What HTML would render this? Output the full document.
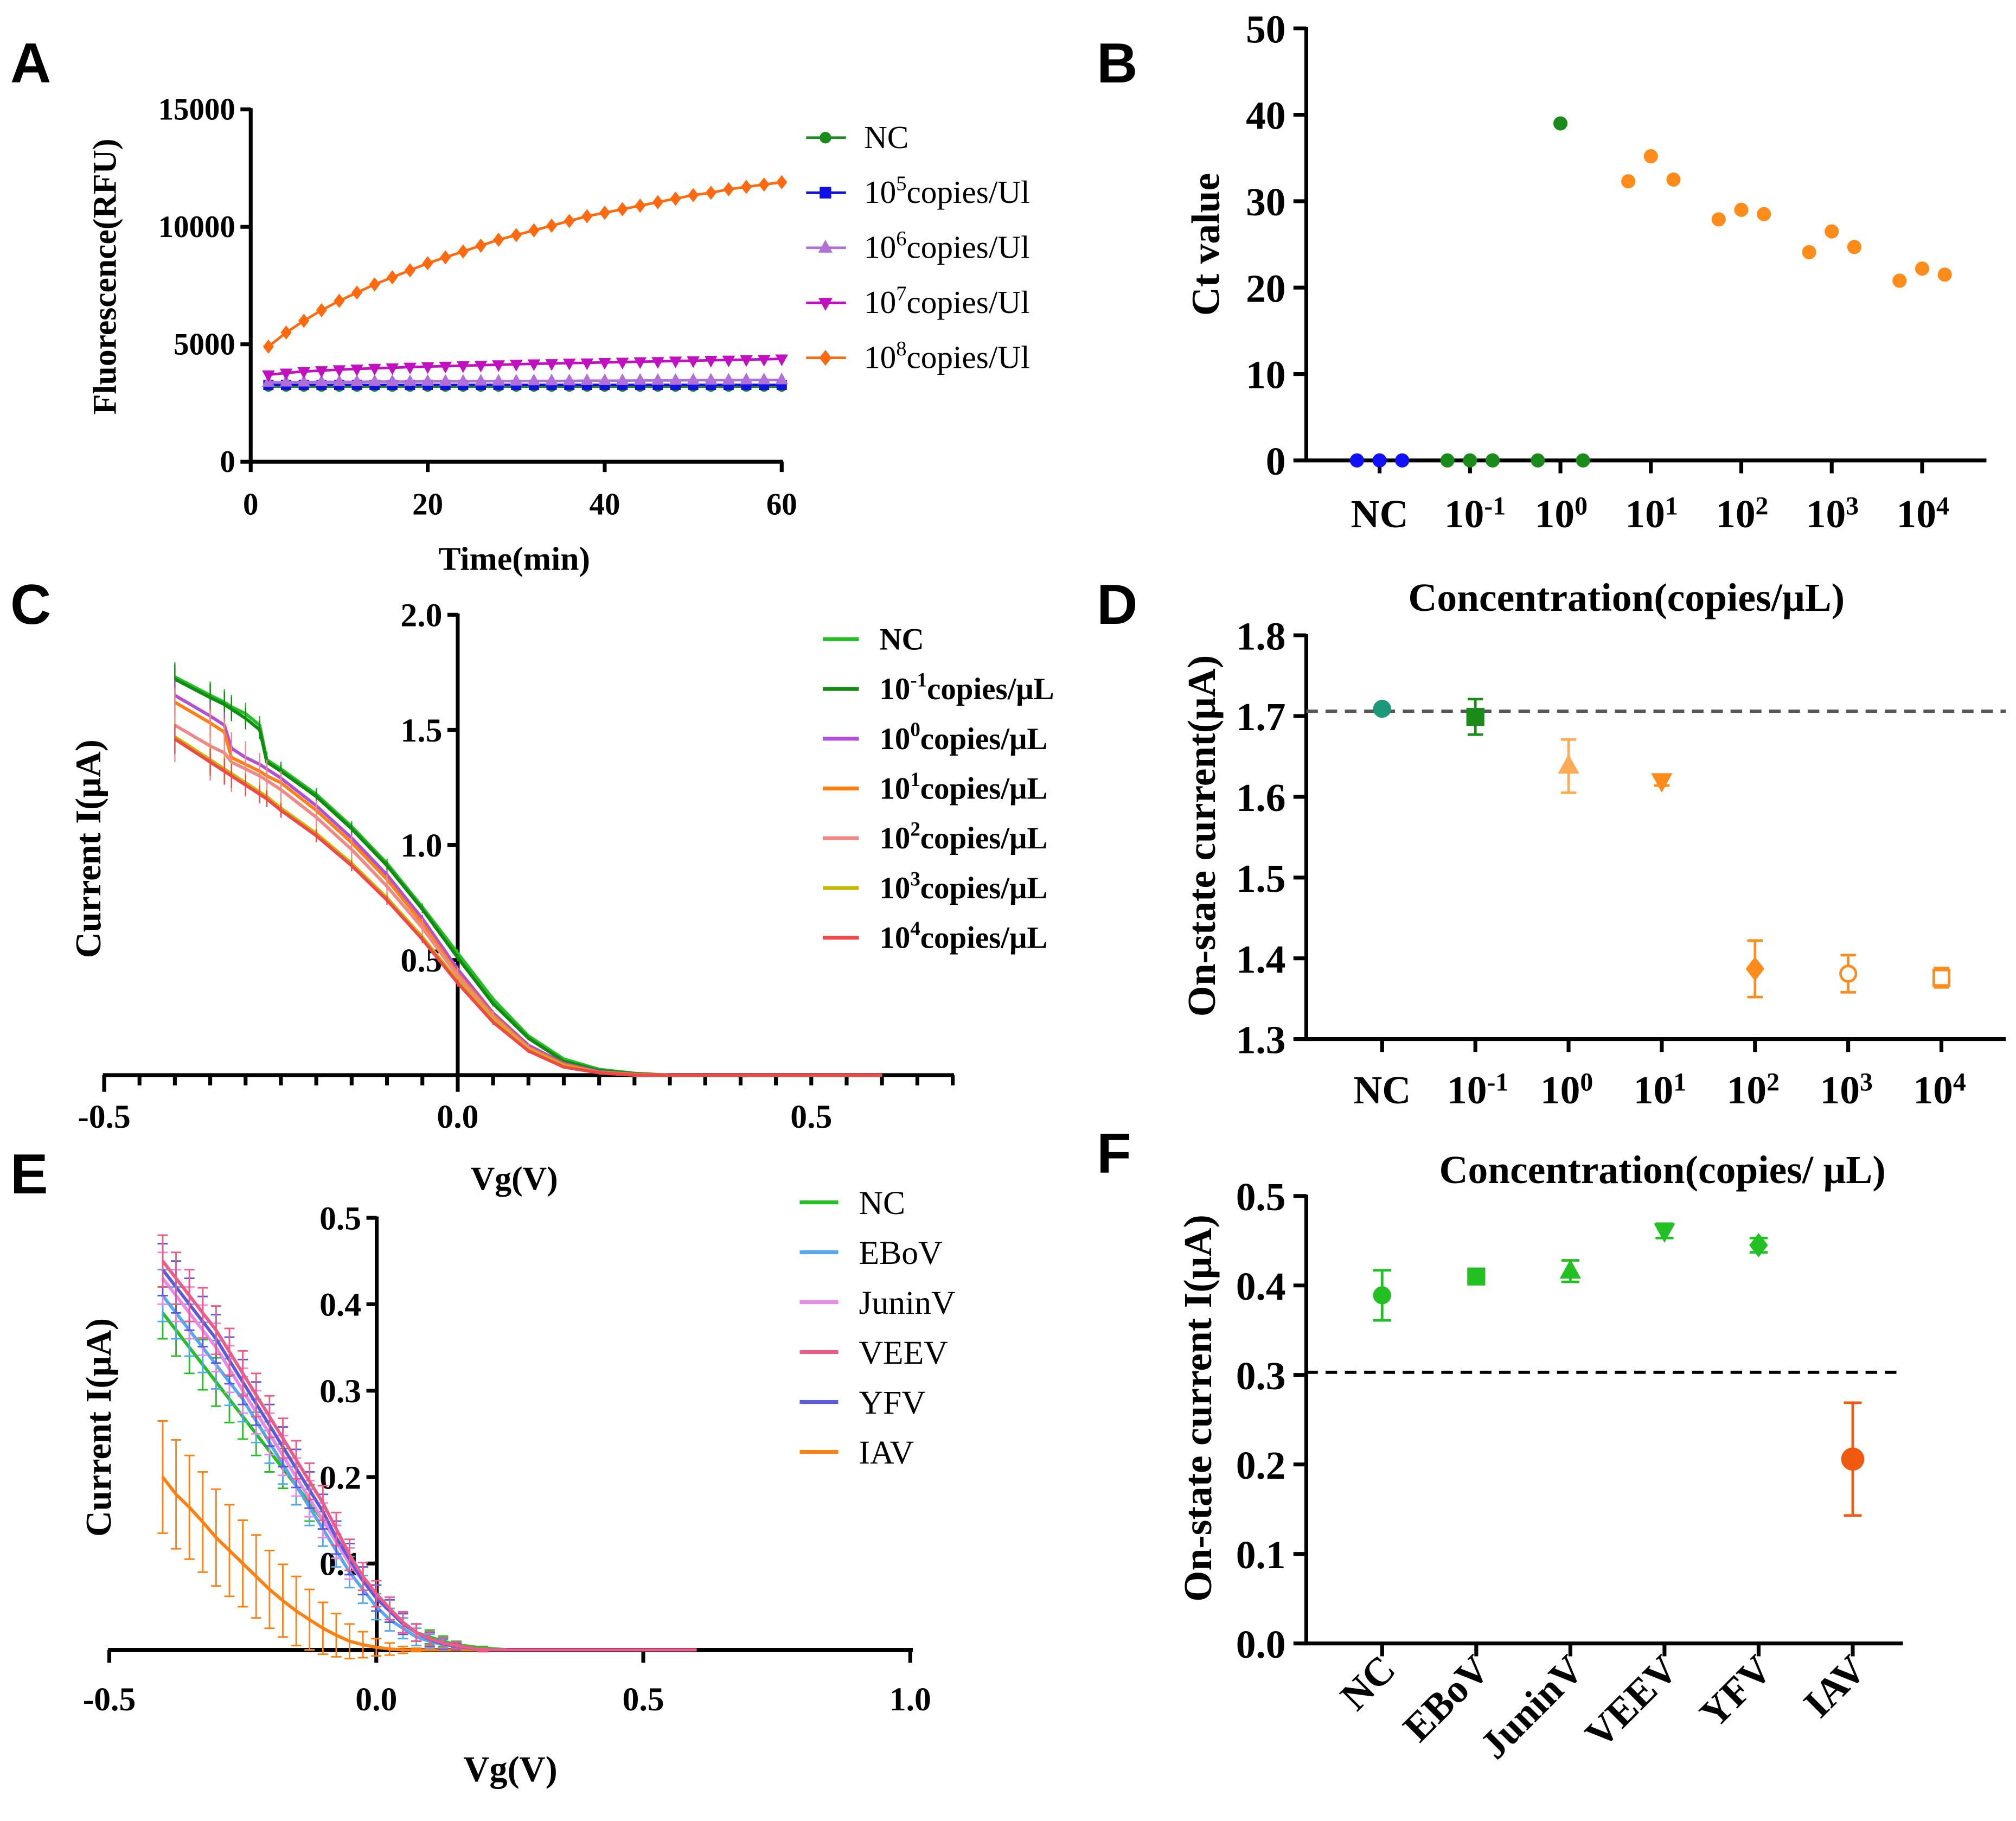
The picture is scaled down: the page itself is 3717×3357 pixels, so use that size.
<!DOCTYPE html>
<html><head><meta charset="utf-8"><style>
html,body{margin:0;padding:0;background:#fff}
svg{display:block}
text{font-family:"Liberation Serif",serif;font-weight:bold;fill:#000}
.sans{font-family:"Liberation Sans",sans-serif}
.nb{font-weight:normal}
</style></head><body>
<svg id="fig" width="3717" height="3357" viewBox="0 0 1568 1416" xmlns="http://www.w3.org/2000/svg"></svg>
<script>
// ---------- DATA ----------
const timeA=[2,4,6,8,10,12,14,16,18,20,22,24,26,28,30,32,34,36,38,40,42,44,46,48,50,52,54,56,58,60];
const aNC=[3200,3200,3200,3200,3200,3200,3200,3200,3200,3200,3200,3200,3200,3200,3200,3200,3200,3200,3200,3200,3200,3200,3200,3200,3200,3200,3200,3200,3200,3200];
const a1e5=[3270,3270,3270,3270,3270,3270,3270,3270,3270,3270,3270,3270,3270,3270,3270,3270,3270,3270,3270,3270,3270,3270,3270,3270,3270,3270,3270,3270,3270,3270];
const a1e6=[3380,3390,3390,3400,3400,3400,3410,3410,3410,3420,3420,3420,3430,3430,3430,3440,3440,3440,3450,3450,3450,3460,3460,3460,3470,3470,3470,3480,3480,3480];
const a1e7=[3700,3780,3840,3880,3920,3950,3980,4000,4030,4050,4070,4090,4110,4130,4150,4170,4180,4200,4210,4230,4240,4260,4270,4290,4300,4320,4330,4350,4360,4380];
const a1e8=[4900,5500,6000,6450,6850,7200,7550,7850,8150,8450,8700,8950,9200,9450,9650,9850,10050,10250,10450,10600,10750,10900,11050,11200,11350,11450,11600,11700,11800,11900];
const yTicksA=[0,5000,10000,15000];
const xTicksA=[0,20,40,60];
const legendA=["NC","5","6","7","8"];

const catsB=["NC","-1","0","1","2","3","4"];
const ptsBx=[-0.25,0,0.25,0.75,1,1.25,1.75,2,2.25,2.75,3,3.25,3.75,4,4.25,4.75,5,5.25,5.75,6,6.25];
const ptsBy=[0,0,0,0,0,0,0,39,0,32.3,35.2,32.5,27.9,29,28.5,24.1,26.5,24.7,20.8,22.2,21.5];
const ptsBc=["b","b","b","g","g","g","g","g","g","o","o","o","o","o","o","o","o","o","o","o","o"];
const yTicksB=[0,10,20,30,40,50];

const vgC=[-0.4,-0.35,-0.33,-0.32,-0.3,-0.28,-0.27,-0.25,-0.2,-0.15,-0.1,-0.05,0,0.05,0.1,0.15,0.2,0.25,0.3,0.4,0.5,0.6];
const cNC=[1.73,1.65,1.62,1.60,1.57,1.52,1.37,1.33,1.22,1.08,0.92,0.73,0.53,0.33,0.17,0.07,0.025,0.008,0,0,0,0];
const cM1=[1.72,1.64,1.61,1.59,1.55,1.50,1.36,1.32,1.21,1.07,0.91,0.72,0.51,0.31,0.16,0.06,0.02,0.006,0,0,0,0];
const c0=[1.65,1.56,1.52,1.42,1.38,1.35,1.33,1.29,1.17,1.03,0.87,0.68,0.46,0.27,0.13,0.05,0.015,0.004,0,0,0,0];
const c1=[1.62,1.53,1.49,1.38,1.35,1.32,1.30,1.27,1.15,1.01,0.85,0.66,0.44,0.26,0.12,0.045,0.012,0.003,0,0,0,0];
const c2=[1.52,1.43,1.40,1.36,1.33,1.30,1.28,1.24,1.12,0.98,0.82,0.64,0.43,0.25,0.115,0.04,0.01,0,0,0,0,0];
const c3=[1.47,1.37,1.33,1.31,1.27,1.23,1.21,1.16,1.05,0.92,0.77,0.60,0.41,0.24,0.11,0.04,0.01,0,0,0,0,0];
const c4=[1.46,1.36,1.32,1.30,1.26,1.22,1.20,1.15,1.04,0.91,0.76,0.59,0.40,0.23,0.105,0.035,0.01,0,0,0,0,0];
const errC=[0.16,0.15,0.14,0.13,0.12,0.1,0.09,0.08,0.07,0.06,0.05,0.04,0.04,0.03,0.02,0.01,0.005,0,0,0,0,0];
const legendC=["NC","-1","0","1","2","3","4"];

const catsD=["NC","-1","0","1","2","3","4"];
const valD=[1.709,1.699,1.638,1.620,1.387,1.381,1.376];
const errD=[0.004,0.022,0.033,0.006,0.035,0.023,0.012];
const refD=1.706;
const yTicksD=[1.3,1.4,1.5,1.6,1.7,1.8];

const vgE=[-0.4,-0.375,-0.35,-0.325,-0.3,-0.275,-0.25,-0.225,-0.2,-0.175,-0.15,-0.125,-0.1,-0.075,-0.05,-0.025,0,0.025,0.05,0.075,0.1,0.125,0.15,0.2,0.25,0.3,0.4,0.5,0.6];
const eNC=[0.39,0.37,0.35,0.33,0.31,0.29,0.27,0.25,0.23,0.21,0.19,0.17,0.15,0.125,0.10,0.08,0.06,0.045,0.03,0.02,0.015,0.01,0.006,0.002,0,0,0,0,0];
const eEB=[0.41,0.39,0.37,0.35,0.33,0.31,0.29,0.265,0.24,0.215,0.19,0.165,0.14,0.115,0.09,0.07,0.05,0.035,0.025,0.015,0.01,0.006,0.004,0,0,0,0,0,0];
const eJU=[0.43,0.41,0.39,0.37,0.35,0.325,0.30,0.275,0.25,0.225,0.20,0.175,0.15,0.125,0.10,0.08,0.06,0.045,0.03,0.02,0.012,0.008,0.004,0,0,0,0,0,0];
const eVE=[0.45,0.43,0.41,0.39,0.37,0.345,0.32,0.295,0.27,0.245,0.22,0.195,0.17,0.14,0.11,0.085,0.065,0.048,0.032,0.02,0.013,0.008,0.005,0,0,0,0,0,0];
const eYF=[0.44,0.42,0.40,0.38,0.36,0.335,0.31,0.285,0.26,0.235,0.21,0.185,0.16,0.13,0.105,0.08,0.06,0.045,0.03,0.02,0.012,0.007,0.004,0,0,0,0,0,0];
const eIA=[0.20,0.18,0.165,0.148,0.13,0.115,0.10,0.085,0.07,0.057,0.045,0.035,0.025,0.017,0.01,0.006,0.003,0.001,0,0,0,0,0,0,0,0,0,0,0];
const errE=[0.03,0.03,0.03,0.029,0.028,0.027,0.026,0.025,0.024,0.023,0.022,0.021,0.02,0.019,0.018,0.016,0.015,0.013,0.012,0.01,0.008,0.006,0.004,0.002,0,0,0,0,0];
const errEI=[0.065,0.063,0.06,0.058,0.056,0.053,0.05,0.048,0.045,0.042,0.04,0.035,0.03,0.025,0.02,0.015,0.01,0.007,0.004,0.002,0,0,0,0,0,0,0,0,0];
const legendE=["NC","EBoV","JuninV","VEEV","YFV","IAV"];

const catsF=["NC","EBoV","JuninV","VEEV","YFV","IAV"];
const valF=[0.389,0.410,0.416,0.461,0.445,0.206];
const errF=[0.028,0.005,0.012,0.008,0.008,0.063];
const refF=0.303;
const yTicksF=[0,0.1,0.2,0.3,0.4,0.5];

// ---------- HELPERS ----------
const NS="http://www.w3.org/2000/svg";
const svg=document.getElementById('fig');
function lin(d0,d1,r0,r1){return v=>r0+(v-d0)*(r1-r0)/(d1-d0);}
function el(tag,attrs,name,parent){
  const e=document.createElementNS(NS,tag);
  for(const k in attrs)e.setAttribute(k,attrs[k]);
  
  
  (parent||svg).appendChild(e);return e;
}
function line(x1,y1,x2,y2,name,st){return el('line',Object.assign({x1,y1,x2,y2,stroke:'#000','stroke-width':3},st||{}),name);}
function txt(x,y,s,name,st){const t=el('text',Object.assign({x,y},st||{}),name);t.textContent=s;return t;}
function sup(x,y,base,exp,rest,name,st){
  const t=el('text',Object.assign({x,y},st||{}),name);
  const a=document.createElementNS(NS,'tspan');a.textContent=base;t.appendChild(a);
  const b=document.createElementNS(NS,'tspan');b.setAttribute('dy','-10');b.setAttribute('font-size','0.65em');b.textContent=exp;t.appendChild(b);
  if(rest){const c=document.createElementNS(NS,'tspan');c.setAttribute('dy','10');c.textContent=rest;t.appendChild(c);}
  return t;
}
function marker(type,x,y,r,color,name,fill){
  const f=fill===undefined?color:fill;
  if(type==='circle')return el('circle',{cx:x,cy:y,r,fill:f,stroke:color,'stroke-width':2},name);
  if(type==='square')return el('rect',{x:x-r,y:y-r,width:2*r,height:2*r,fill:f,stroke:color,'stroke-width':2},name);
  let p;
  if(type==='up')p=[[x,y-r*1.2],[x+r*1.1,y+r*0.8],[x-r*1.1,y+r*0.8]];
  if(type==='down')p=[[x,y+r*1.2],[x+r*1.1,y-r*0.8],[x-r*1.1,y-r*0.8]];
  if(type==='diamond')p=[[x,y-r*1.3],[x+r,y],[x,y+r*1.3],[x-r,y]];
  return el('polygon',{points:p.map(q=>q.join(',')).join(' '),fill:f,stroke:color,'stroke-width':2},name);
}
function poly(xs,ys,fx,fy,color,w,name){
  return el('polyline',{points:xs.map((v,i)=>fx(v)+','+fy(ys[i])).join(' '),fill:'none',stroke:color,'stroke-width':w},name);
}
function letter(x,y,s){txt(x,y,s,'panel-label-'+s.toLowerCase(),{class:'sans','font-size':44});}

// ---------- PANEL A ----------
letter(8,64,'A');
const xA=lin(0,60,195,608), yA=lin(0,15000,359,85);
line(195,84,195,360,'a-y-axis');line(194,359,609,359,'a-x-axis');
yTicksA.forEach(v=>{line(187,yA(v),195,yA(v),'a-y-tick');txt(183,yA(v)+8,v,'a-y-tick-label',{'text-anchor':'end','font-size':24});});
xTicksA.forEach(v=>{line(xA(v),359,xA(v),367,'a-x-tick');txt(xA(v),400,v,'a-x-tick-label',{'text-anchor':'middle','font-size':24});});
txt(400,443,'Time(min)','a-x-axis-title',{'text-anchor':'middle','font-size':26});
txt(0,0,'Fluorescence(RFU)','a-y-axis-title',{'text-anchor':'middle','font-size':26,transform:'translate(90,215) rotate(-90)'});
const serA=[[aNC,'#1a8a1a','circle'],[a1e5,'#1010e0','square'],[a1e6,'#b070d8','up'],[a1e7,'#c010c0','down'],[a1e8,'#ff6a10','diamond']];
serA.forEach((s,k)=>{
  poly(timeA,s[0],xA,yA,s[1],2,'a-series-line-'+k);
  timeA.forEach((t,i)=>marker(s[2],xA(t),yA(s[0][i]),3,s[1],'a-point'));
  const ly=107+k*42.8;
  line(627,ly,658,ly,'a-legend-line',{stroke:s[1],'stroke-width':2});
  marker(s[2],642,ly,3.5,s[1],'a-legend-marker');
  if(k===0)txt(672,ly+8,'NC','a-legend-label',{'font-size':25,class:'nb'});
  else sup(672,ly+8,'10',legendA[k],'copies/Ul','a-legend-label',{'font-size':25,class:'nb'});
});

// ---------- PANEL B ----------
letter(853,64,'B');
const xB=lin(0,6,1073,1495), yB=lin(0,50,358,22);
line(1016,21,1016,359,'b-y-axis');line(1015,358,1545,358,'b-x-axis');
yTicksB.forEach(v=>{line(1006,yB(v),1016,yB(v),'b-y-tick');txt(1000,yB(v)+11,v,'b-y-tick-label',{'text-anchor':'end','font-size':31});});
catsB.forEach((c,i)=>{line(xB(i),358,xB(i),368,'b-x-tick');
  if(c==='NC')txt(xB(i),410,'NC','b-x-tick-label',{'text-anchor':'middle','font-size':31});
  else sup(xB(i)-20,410,'10',c,'','b-x-tick-label',{'font-size':31});});
txt(0,0,'Ct value','b-y-axis-title',{'text-anchor':'middle','font-size':31,transform:'translate(948,190) rotate(-90)'});
const colB={b:'#1010ff',g:'#1a8a1a',o:'#ff8c1a'};
ptsBx.forEach((x,i)=>marker('circle',xB(x),yB(ptsBy[i]),4.5,colB[ptsBc[i]],'b-point'));

// ---------- PANEL C ----------
letter(8,485,'C');
const xC=lin(-0.5,0.5,81,631), yC=lin(0,2,836,478);
line(80,836,742,836,'c-x-axis');line(356,477,356,837,'c-y-axis');
for(let v=-0.5;v<=0.701;v+=0.05){const big=Math.abs(Math.round(v*10)/10-v)<1e-6&&Math.abs((v*10)%5)<1e-6;line(xC(v),836,xC(v),big?849:844,'c-x-tick');}
[-0.5,0,0.5].forEach(v=>txt(xC(v),877,v.toFixed(1),'c-x-tick-label',{'text-anchor':'middle','font-size':26}));
[0.5,1,1.5,2].forEach(v=>{line(348,yC(v),356,yC(v),'c-y-tick');txt(344,yC(v)+9,v.toFixed(1),'c-y-tick-label',{'text-anchor':'end','font-size':26});});
txt(400,925,'Vg(V)','c-x-axis-title',{'text-anchor':'middle','font-size':26});
txt(0,0,'Current I(μA)','c-y-axis-title',{'text-anchor':'middle','font-size':28,transform:'translate(78,660) rotate(-90)'});
const serC=[[cNC,'#22c022'],[cM1,'#138a13'],[c0,'#b050d8'],[c1,'#ff8010'],[c2,'#f08888'],[c3,'#c8b800'],[c4,'#f04848']];
serC.forEach((s,k)=>{
  const isP=s[1]==='#f08888';
  vgC.forEach((v,i)=>{if(errC[i]>0)line(xC(v),yC(s[0][i]+errC[i]*(isP?1:0.4)),xC(v),yC(s[0][i]-errC[i]*(isP?1:0.4)),'c-error-bar',{stroke:s[1],'stroke-width':1});});
  poly(vgC,s[0],xC,yC,s[1],2.5,'c-series-line-'+k);
  const ly=497+k*38.7;
  line(640,ly,668,ly,'c-legend-line',{stroke:s[1],'stroke-width':3});
  if(k===0)txt(684,ly+8,'NC','c-legend-label',{'font-size':24});
  else sup(684,ly+8,'10',legendC[k],'copies/μL','c-legend-label',{'font-size':24});
});

// ---------- PANEL D ----------
letter(853,485,'D');
const xD=lin(0,6,1075,1510), yD=lin(1.3,1.8,808,494);
line(1016,493,1016,809,'d-y-axis');line(1015,808,1560,808,'d-x-axis');
yTicksD.forEach(v=>{line(1006,yD(v),1016,yD(v),'d-y-tick');txt(1000,yD(v)+11,v.toFixed(1),'d-y-tick-label',{'text-anchor':'end','font-size':31});});
catsD.forEach((c,i)=>{line(xD(i),808,xD(i),818,'d-x-tick');
  if(c==='NC')txt(xD(i),858,'NC','d-x-tick-label',{'text-anchor':'middle','font-size':31});
  else sup(xD(i)-22,858,'10',c,'','d-x-tick-label',{'font-size':31});});
txt(1265,475,'Concentration(copies/μL)','d-title',{'text-anchor':'middle','font-size':31});
txt(0,0,'On-state current(μA)','d-y-axis-title',{'text-anchor':'middle','font-size':31,transform:'translate(945,650) rotate(-90)'});
line(1016,yD(refD),1560,yD(refD),'d-reference-line',{stroke:'#555','stroke-width':2.5,'stroke-dasharray':'9,6'});
const mkD=[['circle','#1a9a7a',null],['square','#1a8a1a',null],['up','#ffaa55',null],['down','#ff8c1a',null],['diamond','#ff8c1a',null],['circle','#ff8c1a','none'],['square','#ff8c1a','none']];
valD.forEach((v,i)=>{const x=xD(i),c=mkD[i][1];
  line(x,yD(v+errD[i]),x,yD(v-errD[i]),'d-error-bar',{stroke:c,'stroke-width':2});
  line(x-6,yD(v+errD[i]),x+6,yD(v+errD[i]),'d-error-cap',{stroke:c,'stroke-width':2});
  line(x-6,yD(v-errD[i]),x+6,yD(v-errD[i]),'d-error-cap',{stroke:c,'stroke-width':2});
  marker(mkD[i][0],x,yD(v),6,c,'d-point',mkD[i][2]===null?c:'#fff');});

// ---------- PANEL E ----------
letter(8,928,'E');
const xE=lin(-0.5,1,85,708), yE=lin(0,0.5,1283,947);
line(84,1283,710,1283,'e-x-axis');line(293,946,293,1284,'e-y-axis');
[-0.5,0,0.5,1].forEach(v=>{line(xE(v),1283,xE(v),1293,'e-x-tick');txt(xE(v),1330,v.toFixed(1),'e-x-tick-label',{'text-anchor':'middle','font-size':26});});
[0.1,0.2,0.3,0.4,0.5].forEach(v=>{line(285,yE(v),293,yE(v),'e-y-tick');txt(281,yE(v)+9,v.toFixed(1),'e-y-tick-label',{'text-anchor':'end','font-size':26});});
txt(397,1385,'Vg(V)','e-x-axis-title',{'text-anchor':'middle','font-size':28});
txt(0,0,'Current I(μA)','e-y-axis-title',{'text-anchor':'middle','font-size':28,transform:'translate(86,1110) rotate(-90)'});
const serE=[[eIA,'#ff8010',errEI],[eNC,'#22c022',errE],[eEB,'#55a8f0',errE],[eJU,'#e888e8',errE],[eYF,'#5a5ae0',errE],[eVE,'#f05a88',errE]];
serE.forEach((s,k)=>{
  vgE.forEach((v,i)=>{const e=s[2][i];if(e>0){const x=xE(v);
    line(x,yE(s[0][i]+e),x,yE(s[0][i]-e),'e-error-bar',{stroke:s[1],'stroke-width':1.2});
    line(x-4,yE(s[0][i]+e),x+4,yE(s[0][i]+e),'e-error-cap',{stroke:s[1],'stroke-width':1.2});
    line(x-4,yE(s[0][i]-e),x+4,yE(s[0][i]-e),'e-error-cap',{stroke:s[1],'stroke-width':1.2});}});
  poly(vgE,s[0],xE,yE,s[1],2.5,'e-series-line-'+k);
});
const legColE=['#22c022','#55a8f0','#e888e8','#f05a88','#5a5ae0','#ff8010'];
legendE.forEach((n,k)=>{const ly=935+k*38.8;
  line(622,ly,652,ly,'e-legend-line',{stroke:legColE[k],'stroke-width':3});
  txt(668,ly+9,n,'e-legend-label',{'font-size':26,class:'nb'});});

// ---------- PANEL F ----------
letter(853,912,'F');
const xF=lin(0,5,1075,1441), yF=lin(0,0.5,1278,930);
line(1016,929,1016,1279,'f-y-axis');line(1015,1278,1480,1278,'f-x-axis');
yTicksF.forEach(v=>{line(1006,yF(v),1016,yF(v),'f-y-tick');txt(1000,yF(v)+11,v.toFixed(1),'f-y-tick-label',{'text-anchor':'end','font-size':31});});
catsF.forEach((c,i)=>{line(xF(i),1278,xF(i),1288,'f-x-tick');
  txt(0,0,c,'f-x-tick-label',{'text-anchor':'end','font-size':31,transform:'translate('+(xF(i)+12)+',1300) rotate(-45)'});});
txt(1293,920,'Concentration(copies/ μL)','f-title',{'text-anchor':'middle','font-size':31});
txt(0,0,'On-state current I(μA)','f-y-axis-title',{'text-anchor':'middle','font-size':31,transform:'translate(942,1095) rotate(-90)'});
line(1016,yF(refF),1480,yF(refF),'f-reference-line',{stroke:'#000','stroke-width':2.5,'stroke-dasharray':'9,6'});
const mkF=['circle','square','up','down','diamond','circle'];
valF.forEach((v,i)=>{const x=xF(i),c=i===5?'#f05a10':'#22c022';
  line(x,yF(v+errF[i]),x,yF(v-errF[i]),'f-error-bar',{stroke:c,'stroke-width':2});
  line(x-7,yF(v+errF[i]),x+7,yF(v+errF[i]),'f-error-cap',{stroke:c,'stroke-width':2});
  line(x-7,yF(v-errF[i]),x+7,yF(v-errF[i]),'f-error-cap',{stroke:c,'stroke-width':2});
  marker(mkF[i],x,yF(v),i===5?8:6,c,'f-point');});
</script>
</body></html>
